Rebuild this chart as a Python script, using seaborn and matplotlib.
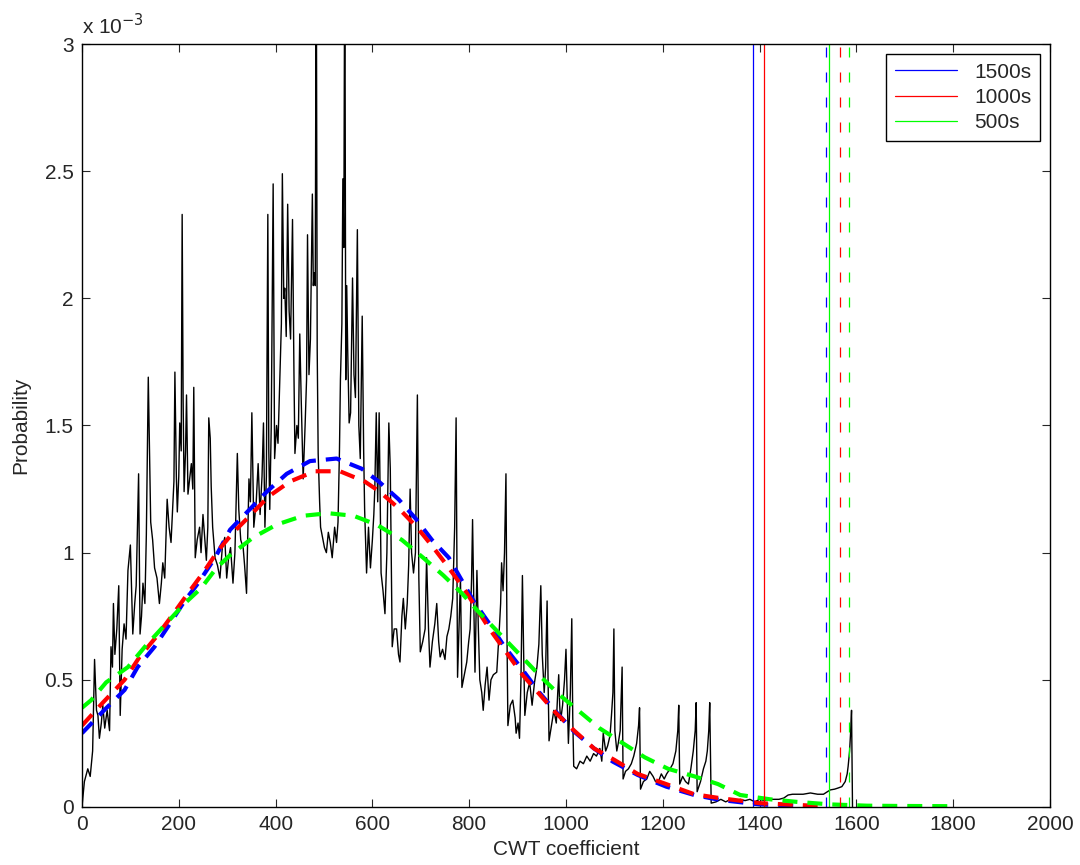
import numpy as np
import pandas as pd
import seaborn as sns
import matplotlib
matplotlib.use("Agg")
import matplotlib.pyplot as plt
from matplotlib.lines import Line2D

# Empirical distribution (black line), probability in units of 1e-3
cwt_x = [0, 5, 12, 17, 22, 26, 30, 33, 36, 40, 43, 47, 52, 57, 60, 63, 65, 68, 72, 76,
         79, 83, 87, 91, 95, 100, 105, 109, 112, 117, 120, 123, 126, 130, 133, 137, 142, 146, 150, 155,
         160, 164, 167, 171, 176, 180, 184, 188, 190, 192, 195, 197, 200, 202, 205, 207, 209, 211, 214, 216,
         219, 223, 226, 229, 231, 234, 238, 243, 246, 250, 254, 257, 260, 262, 265, 267, 270, 275, 280, 285,
         290, 295, 299, 303, 307, 312, 316, 321, 324, 328, 333, 336, 340, 345, 348, 351, 355, 360, 364, 368,
         372, 375, 378, 381, 384, 386, 388, 391, 395, 398, 402, 405, 409, 412, 414, 417, 419, 422, 425, 428,
         431, 435, 438, 440, 444, 447, 450, 453, 457, 461, 464, 466, 469, 472, 476, 478, 480, 482, 484, 486,
         488, 491, 493, 497, 501, 505, 509, 513, 517, 522, 526, 529, 532, 534, 537, 539, 541, 543, 545, 547,
         549, 552, 555, 559, 562, 565, 569, 572, 575, 579, 582, 584, 588, 592, 596, 600, 603, 605, 608, 611,
         614, 618, 622, 626, 630, 634, 637, 641, 645, 650, 654, 657, 661, 664, 668, 672, 675, 678, 681, 685,
         689, 693, 696, 699, 704, 709, 712, 716, 719, 724, 729, 733, 737, 740, 745, 750, 754, 758, 762, 766,
         770, 773, 776, 779, 782, 785, 790, 795, 799, 802, 805, 807, 810, 812, 816, 819, 822, 826, 829, 833,
         837, 841, 845, 850, 857, 862, 865, 867, 870, 873, 876, 878, 880, 885, 890, 895, 897, 901, 904, 907,
         910, 913, 915, 920, 925, 930, 935, 940, 944, 948, 951, 955, 958, 961, 963, 965, 970, 975, 980, 983,
         985, 987, 989, 993, 997, 1000, 1003, 1005, 1009, 1012, 1014, 1016, 1022, 1029, 1036, 1043, 1050, 1057, 1063, 1070,
         1074, 1077, 1082, 1086, 1091, 1094, 1097, 1099, 1101, 1105, 1108, 1112, 1116, 1118, 1123, 1129, 1135, 1140, 1146, 1150,
         1152, 1154, 1160, 1167, 1173, 1180, 1185, 1191, 1197, 1203, 1208, 1215, 1221, 1227, 1231, 1233, 1235, 1241, 1247, 1253,
         1258, 1263, 1267, 1269, 1271, 1278, 1284, 1289, 1292, 1295, 1297, 1300, 1310, 1320, 1330, 1340, 1350, 1360, 1370, 1380,
         1390, 1400, 1410, 1420, 1430, 1440, 1450, 1459, 1468, 1476, 1490, 1505, 1520, 1532, 1540, 1546, 1555, 1563, 1570, 1577,
         1581, 1583, 1586, 1588, 1590, 1592]
cwt_p = [0.00, 0.10, 0.15, 0.12, 0.22, 0.58, 0.38, 0.36, 0.27, 0.33, 0.40, 0.31, 0.38, 0.30, 0.63, 0.55, 0.80, 0.60, 0.70, 0.87,
         0.36, 0.62, 0.72, 0.66, 0.93, 1.03, 0.68, 0.80, 0.87, 1.31, 0.68, 0.75, 0.88, 0.80, 1.07, 1.69, 1.12, 1.05, 0.94, 0.90,
         0.80, 0.88, 0.96, 0.90, 1.21, 1.10, 1.04, 1.20, 1.28, 1.71, 1.30, 1.16, 1.30, 1.51, 1.40, 2.33, 1.60, 1.24, 1.40, 1.62,
         1.23, 1.30, 1.35, 1.25, 1.65, 0.98, 1.05, 1.10, 1.00, 1.15, 1.05, 0.97, 1.10, 1.53, 1.45, 1.26, 1.10, 0.98, 0.95, 0.90,
         1.02, 1.06, 0.90, 0.98, 1.02, 0.88, 1.00, 1.39, 1.17, 1.05, 1.02, 0.95, 0.84, 1.29, 1.20, 1.55, 1.10, 1.20, 1.35, 1.15,
         1.30, 1.51, 1.10, 1.30, 2.33, 1.40, 1.17, 1.49, 2.45, 1.37, 1.50, 1.43, 1.70, 1.90, 2.49, 2.00, 2.04, 1.85, 2.37, 1.95,
         1.84, 2.31, 1.70, 1.39, 1.50, 1.45, 1.86, 1.60, 1.29, 1.50, 1.68, 2.25, 1.70, 1.84, 2.41, 2.05, 2.10, 2.05, 3.50, 1.80,
         1.39, 1.20, 1.10, 1.06, 1.02, 1.00, 1.08, 1.04, 0.98, 1.10, 1.04, 1.12, 1.40, 1.68, 1.90, 2.47, 2.20, 3.50, 1.68, 2.05,
         1.80, 1.51, 1.55, 2.08, 1.70, 1.61, 2.27, 1.50, 1.37, 1.93, 1.40, 1.17, 0.92, 1.10, 0.94, 1.05, 1.15, 1.25, 1.55, 1.20,
         1.55, 0.92, 0.85, 0.76, 1.00, 1.51, 1.33, 0.63, 0.70, 0.70, 0.60, 0.57, 0.75, 0.82, 0.70, 0.80, 0.95, 1.25, 1.00, 0.92,
         1.00, 1.62, 0.90, 0.61, 0.65, 0.70, 0.98, 0.70, 0.55, 0.65, 0.72, 0.80, 0.65, 0.59, 0.62, 0.58, 0.67, 0.70, 0.75, 0.82,
         1.10, 1.53, 0.51, 0.70, 0.90, 0.47, 0.52, 0.57, 0.65, 0.70, 0.90, 1.13, 0.75, 0.53, 0.93, 0.70, 0.50, 0.45, 0.38, 0.48,
         0.55, 0.42, 0.50, 0.52, 0.53, 0.69, 0.80, 0.96, 0.85, 1.00, 1.31, 0.70, 0.32, 0.40, 0.42, 0.35, 0.29, 0.33, 0.27, 0.50,
         0.91, 0.55, 0.36, 0.45, 0.49, 0.40, 0.49, 0.55, 0.64, 0.87, 0.60, 0.45, 0.55, 0.81, 0.50, 0.26, 0.32, 0.38, 0.33, 0.45,
         0.52, 0.40, 0.34, 0.40, 0.50, 0.62, 0.40, 0.25, 0.45, 0.74, 0.35, 0.16, 0.15, 0.18, 0.17, 0.20, 0.18, 0.21, 0.20, 0.23,
         0.18, 0.29, 0.22, 0.24, 0.28, 0.36, 0.45, 0.70, 0.30, 0.22, 0.25, 0.30, 0.55, 0.11, 0.14, 0.15, 0.17, 0.20, 0.25, 0.32,
         0.39, 0.07, 0.10, 0.11, 0.14, 0.12, 0.10, 0.10, 0.13, 0.11, 0.13, 0.15, 0.17, 0.22, 0.30, 0.40, 0.09, 0.12, 0.10, 0.09,
         0.15, 0.22, 0.30, 0.41, 0.06, 0.10, 0.15, 0.18, 0.22, 0.30, 0.41, 0.015, 0.02, 0.03, 0.02, 0.03, 0.02, 0.03, 0.025, 0.03,
         0.02, 0.03, 0.025, 0.03, 0.03, 0.03, 0.035, 0.047, 0.05, 0.05, 0.05, 0.055, 0.05, 0.05, 0.06, 0.067, 0.07, 0.075, 0.08, 0.10,
         0.13, 0.16, 0.22, 0.29, 0.38, 0.00]

# Fitted curves (dashed), probability in units of 1e-3
fit_1500_x = [0, 43, 88, 115, 150, 185, 212, 240, 275, 306, 344, 382, 423, 471, 526, 578, 613, 654, 689, 723,
              758, 785, 809, 842, 873, 910, 945, 979, 1017, 1058, 1097, 1148, 1207, 1265, 1317, 1400, 1500]
fit_1500_p = [0.29, 0.375, 0.46, 0.55, 0.63, 0.73, 0.81, 0.88, 0.98, 1.09, 1.165, 1.24, 1.31, 1.36, 1.37, 1.33, 1.28, 1.21, 1.135, 1.05,
              0.98, 0.89, 0.81, 0.72, 0.63, 0.54, 0.45, 0.375, 0.296, 0.23, 0.178, 0.126, 0.08, 0.047, 0.028, 0.01, 0.003]
fit_1000_x = [0, 43, 88, 119, 154, 187, 219, 250, 282, 313, 347, 385, 430, 481, 533, 584, 615, 654, 692, 726,
              758, 792, 842, 910, 979, 1017, 1058, 1100, 1148, 1207, 1265, 1317, 1400, 1520]
fit_1000_p = [0.32, 0.41, 0.50, 0.59, 0.67, 0.755, 0.84, 0.92, 1.01, 1.08, 1.145, 1.22, 1.28, 1.32, 1.32, 1.28, 1.24, 1.175, 1.10, 1.02,
              0.94, 0.85, 0.70, 0.52, 0.37, 0.30, 0.23, 0.185, 0.13, 0.09, 0.05, 0.035, 0.015, 0.004]
fit_500_x = [0, 19, 50, 95, 130, 171, 212, 246, 278, 306, 354, 402, 457, 509, 561, 609, 661, 705, 747, 785,
             818, 904, 949, 987, 1028, 1069, 1118, 1163, 1211, 1266, 1314, 1360, 1422, 1477, 1546, 1622, 1684, 1800]
fit_500_p = [0.39, 0.42, 0.49, 0.55, 0.63, 0.715, 0.80, 0.86, 0.94, 0.99, 1.06, 1.11, 1.145, 1.155, 1.145, 1.11, 1.05, 0.98, 0.91, 0.84,
             0.77, 0.60, 0.51, 0.44, 0.375, 0.31, 0.25, 0.195, 0.15, 0.12, 0.09, 0.047, 0.03, 0.02, 0.01, 0.005, 0.004, 0.003]

# Thresholds (vertical lines)
labels = ["1500s", "1000s", "500s"]
colors = ["#0000ff", "#ff0000", "#00ff00"]
thr_solid = [1386, 1409, 1543]
thr_dashed = [1537, 1566, 1585]

sns.set_style("ticks")
plt.rcParams["font.family"] = ["Liberation Sans", "DejaVu Sans"]

fig = plt.figure(figsize=(10.8, 8.65), dpi=100)
ax = fig.add_axes([0.0759, 0.0671, 0.8963, 0.882])

df = pd.DataFrame({"x": cwt_x, "p": cwt_p})
sns.lineplot(data=df, x="x", y="p", color="black", lw=1.0, ax=ax, sort=False)

dash = (0, (3.6, 2.4))
for fx, fp, c in [(fit_1500_x, fit_1500_p, colors[0]),
                  (fit_1000_x, fit_1000_p, colors[1]),
                  (fit_500_x, fit_500_p, colors[2])]:
    sns.lineplot(x=fx, y=fp, color=c, lw=3.0, linestyle=dash, ax=ax, sort=False)

for xs, xd, c in zip(thr_solid, thr_dashed, colors):
    ax.axvline(xs, color=c, lw=0.9)
    ax.axvline(xd, color=c, lw=0.9, linestyle=(0, (8, 12)))

handles = [Line2D([], [], color=c, lw=0.9) for c in colors]
leg = ax.legend(handles, labels, loc="upper right", fontsize=15, frameon=True,
                fancybox=False, framealpha=1, edgecolor="black", handlelength=3.0,
                borderaxespad=0.5, borderpad=0.4, labelspacing=0.3, handletextpad=0.8)
leg.get_frame().set_linewidth(1.0)

ax.set_xlim(0, 2000)
ax.set_ylim(0, 3)
ax.set_xticks(np.arange(0, 2001, 200))
ax.set_yticks(np.arange(0, 3.01, 0.5))
ax.yaxis.set_major_formatter(matplotlib.ticker.FormatStrFormatter("%g"))
ax.tick_params(direction="in", length=6, width=0.8, labelsize=15,
               top=True, right=True, pad=6)
for s in ax.spines.values():
    s.set_linewidth(1.0)
    s.set_color("black")

ax.set_xlabel("CWT coefficient", fontsize=15, labelpad=4)
ax.set_ylabel("Probability", fontsize=15, labelpad=10)
ax.text(0, 1.008, "x 10$^{-3}$", transform=ax.transAxes, fontsize=15,
        ha="left", va="bottom")

fig.savefig("out.png", dpi=100)
